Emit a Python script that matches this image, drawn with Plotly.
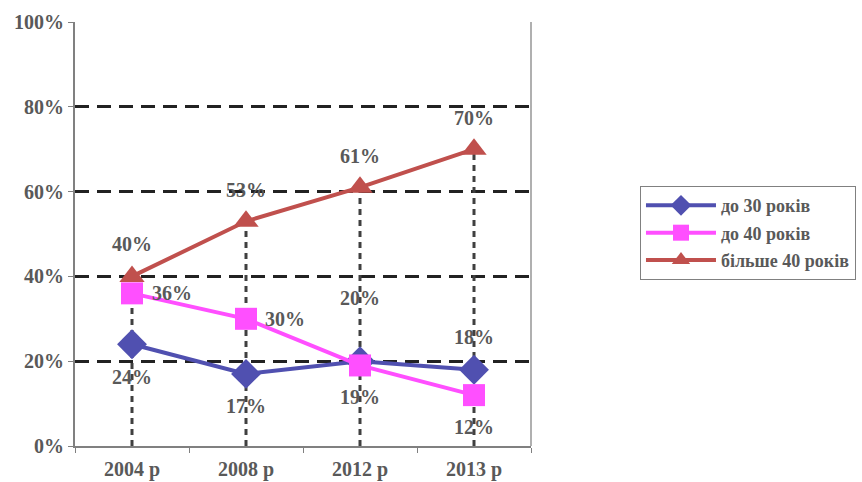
import plotly.graph_objects as go

categories = ["2004 р", "2008 р", "2012 р", "2013 р"]
under30 = [24, 17, 20, 18]
under40 = [36, 30, 19, 12]
over40 = [40, 53, 61, 70]
names = ["до 30 років", "до 40 років", "більше 40 років"]
y_ticks = [0, 20, 40, 60, 80, 100]

# label offsets (pixels) per point: (xshift, yshift)
off_30 = [(0, -33), (0, -32), (0, 63), (0, 33)]
off_40 = [(40, 0), (39, 0), (0, -32), (0, -32)]
off_o40 = [(0, 32), (0, 31), (0, 31), (0, 31)]

font_fam = "Liberation Serif"
txt_col = "#595959"

fig = go.Figure()

# drop lines from highest point to axis
dx, dy = [], []
for i, c in enumerate(categories):
    top = max(under30[i], under40[i], over40[i])
    dx += [c, c, None]
    dy += [0, top, None]
fig.add_trace(go.Scatter(x=dx, y=dy, mode="lines", showlegend=False, hoverinfo="skip",
                         line=dict(color="#404040", width=3, dash="6px,5px")))

def add(vals, name, color, symbol, size, offs):
    fig.add_trace(go.Scatter(
        x=categories, y=vals, name=name, mode="lines+markers", legendgroup=name,
        line=dict(color=color, width=4),
        marker=dict(symbol=symbol, size=size, color=color)))
    for c, v, (xs, ys) in zip(categories, vals, offs):
        fig.add_annotation(x=c, y=v, text=f"{v}%", showarrow=False,
                           xshift=xs, yshift=ys,
                           font=dict(family=font_fam, size=20, color=txt_col, weight="bold"))

add(under30, names[0], "#5050B0", "diamond", 23, off_30)
add(under40, names[1], "#FF4FFF", "square", 22, off_40)
add(over40, names[2], "#C0504D", "triangle-up", 22, off_o40)

fig.update_layout(
    width=862, height=482,
    margin=dict(l=75, r=331, t=22, b=36, autoexpand=False),
    paper_bgcolor="white", plot_bgcolor="white",
    font=dict(family=font_fam, color=txt_col),
    legend=dict(x=1.239, y=0.613, xanchor="left", yanchor="top",
                bordercolor="#808080", borderwidth=1, itemwidth=70,
                font=dict(family=font_fam, size=18, color=txt_col, weight="bold"),
                tracegroupgap=1),
    xaxis=dict(type="category", range=[-0.5, 3.5], tickson="boundaries",
               ticks="outside", ticklen=5, tickcolor="#808080",
               showline=True, linecolor="#808080", linewidth=2, mirror=False,
               showgrid=False, automargin=False, ticklabelstandoff=4,
               tickfont=dict(family=font_fam, size=20, color=txt_col, weight="bold")),
    yaxis=dict(range=[0, 100], tickvals=y_ticks, ticktext=[f"{v}%" for v in y_ticks],
               ticks="outside", ticklen=5, tickcolor="#808080",
               showline=True, linecolor="#808080", linewidth=2,
               showgrid=True, gridcolor="#222222", gridwidth=3, griddash="14px,8px",
               zeroline=False, automargin=False,
               tickfont=dict(family=font_fam, size=20, color=txt_col, weight="bold")),
)
fig.add_shape(type="line", xref="paper", yref="paper", x0=1, x1=1, y0=0, y1=1,
              line=dict(color="#B0B0B0", width=2))

fig.write_html("out.html")
